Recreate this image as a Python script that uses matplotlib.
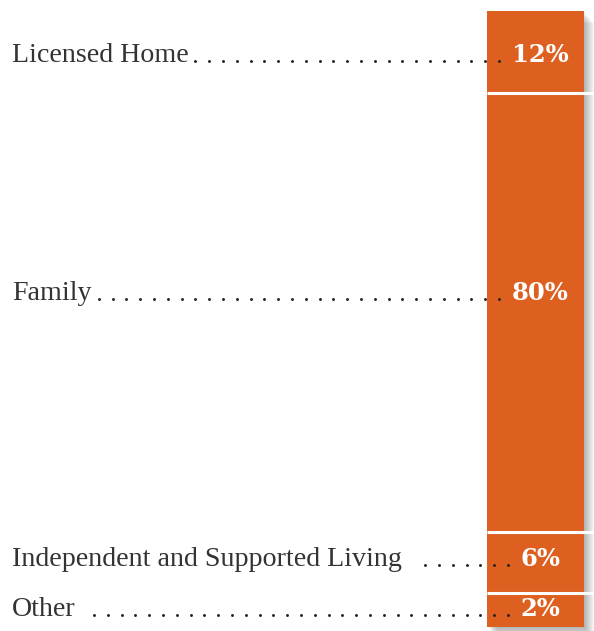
import matplotlib
matplotlib.use("Agg")
import matplotlib.pyplot as plt
from matplotlib.patches import Rectangle
import numpy as np

# Data
categories = ["Licensed Home", "Family", "Independent and Supported Living", "Other"]
shares = ["12%", "80%", "6%", "2%"]
# segment heights as drawn in the picture (not proportional to the shares)
shown = [13.3, 71.3, 9.9, 5.5]

ORANGE = "#DD6021"
TEXT = "#333333"

W, H = 594, 631
PX = 6.16  # pixels per unit of bar height
TOP = 11   # bar top in pixels

fig = plt.figure(figsize=(W / 100, H / 100), dpi=100)
ax = fig.add_axes([0, 0, 1, 1])
ax.set_xlim(0, W)
ax.set_ylim((H - TOP) / PX, -TOP / PX)
ax.axis("off")

bar_x, bar_w = 487, 97
bottoms = np.concatenate([[0], np.cumsum(shown)[:-1]])
total = sum(shown)

# soft shadow on the right / bottom
for i in range(1, 11):
    ax.add_patch(Rectangle((bar_x + i, i * 0.4 / PX * 3), bar_w, total,
                           facecolor="black", alpha=0.03, lw=0, zorder=1))

ax.bar(bar_x + bar_w / 2, shown, bottom=bottoms, width=bar_w,
       color=ORANGE, lw=0, zorder=2)

# white separators between segments
for b in bottoms[1:]:
    ax.hlines(b, bar_x, W, color="white", lw=2.2, zorder=3)

label_shift = [0.1, -3.5, -1.0, -0.5]
dot_end = [499, 499, 508, 508]
dot_gap = [6, 5, 20, 15]
step = 13.8

fig.canvas.draw()
renderer = fig.canvas.get_renderer()
inv = ax.transData.inverted()

for i, (cat, pct) in enumerate(zip(categories, shares)):
    yc = bottoms[i] + shown[i] / 2 + label_shift[i]
    yb = yc + 9.5 / PX
    t = ax.text(12, yb, cat, fontsize=20.2, family="Liberation Serif",
                color=TEXT, va="baseline", ha="left", zorder=4)
    ax.text(540, yb, pct, fontsize=17.5, family="DejaVu Serif",
            fontweight="bold", color="white", va="baseline", ha="center", zorder=4)
    ext = t.get_window_extent(renderer)
    x_end = inv.transform((ext.x1, ext.y0))[0]
    xs = np.arange(dot_end[i], x_end + dot_gap[i], -step)
    ax.plot(xs, np.full_like(xs, yb - 1.2 / PX), ls="none", marker="o",
            ms=2.1, color="#222222", mew=0, zorder=4)

fig.savefig("out.png", dpi=100, facecolor="white")
